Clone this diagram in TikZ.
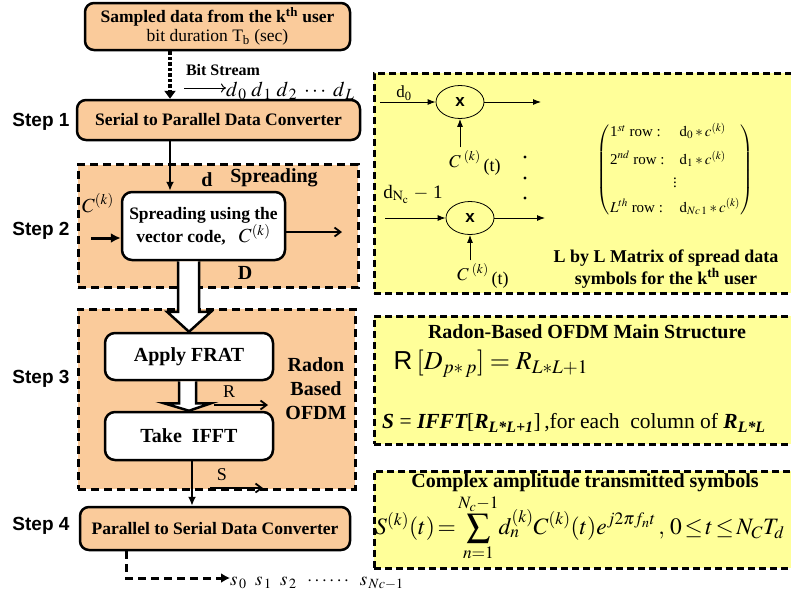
\documentclass[tikz,border=0pt]{standalone}
\usepackage{amsmath}
\usepackage{mathptmx}
\usepackage{fontspec}
\setmainfont{Liberation Serif}
\newfontfamily\stepfont{Liberation Sans}
\usepackage{tikz}
\usetikzlibrary{
  shapes.geometric,
  arrows.meta,
  positioning,
  calc
}
\definecolor{blockcolor}{RGB}{250, 203, 155}
\definecolor{panelcolor}{RGB}{255, 255, 153}
\definecolor{edgecolor}{RGB}{0, 0, 0}
\tikzset{
blocktext/.style={
  align=center,
  font=\bfseries\fontsize{17.5}{22}\selectfont
},
stepblock/.style={
  draw=edgecolor,
  line width=2.5pt,
  rounded corners=9pt,
  fill=blockcolor,
  blocktext
},
innerblock/.style={
  draw=edgecolor,
  line width=2.5pt,
  rounded corners=10pt,
  fill=white,
  blocktext
},
region/.style={
  draw=edgecolor,
  line width=3pt,
  dash pattern=on 8pt off 5pt,
  fill=blockcolor
},
panel/.style={
  draw=edgecolor,
  line width=2.5pt,
  dash pattern=on 7pt off 4pt,
  fill=panelcolor,
  anchor=north west
},
steplabel/.style={
  font=\stepfont\bfseries\fontsize{19}{22}\selectfont
},
boldlabel/.style={
  font=\bfseries\fontsize{20}{24}\selectfont,
  align=center
},
plainlabel/.style={
  font=\fontsize{18}{20}\selectfont
},
mixer/.style={
  draw,
  ellipse,
  line width=0.8pt,
  minimum width=48pt,
  minimum height=33pt,
  font=\stepfont\bfseries\fontsize{17}{20}\selectfont
},
arrow/.style={
  -{Latex[length=9pt,width=8pt]},
  line width=2pt
},
thinarrow/.style={
  -{Straight Barb[length=6pt,width=9pt]},
  line width=1.8pt
},
signalarrow/.style={
  -{Latex[length=8pt,width=6pt]},
  line width=0.9pt
},
hollow/.style={
  draw=edgecolor,
  line width=2.5pt,
  fill=white,
  line join=miter
}
}
\newcommand{\bi}[1]{{\bfseries\itshape #1}}
\begin{document}
\begin{tikzpicture}[x=1pt,y=-1pt]
\path[use as bounding box] (0,0) rectangle (791,600);
\clip (0,0) rectangle (791,600);

% left column: the transmitter steps
\node[stepblock, minimum width=265, minimum height=47] (src) at (217.5,26.5)
  {Sampled data from the k\textsuperscript{th} user\\[-3pt]
   {\mdseries bit duration T\textsubscript{b} (sec)}};
\node[stepblock, minimum width=283, minimum height=40] (s2p) at (218.5,120)
  {Serial to Parallel Data Converter};

\node[region, minimum width=280, minimum height=123] (spreadreg) at (218,226) {};
\node[region, minimum width=277, minimum height=180] (radonreg) at (216.5,399) {};

\node[innerblock, minimum width=163, minimum height=68] (spread) at (203.5,226)
  {Spreading using the\\vector code, \enspace{\mdseries\fontsize{20}{22}\selectfont$C^{(k)}$}};
\node[innerblock, minimum width=168, minimum height=47] (frat) at (189,356.5)
  {\fontsize{20}{22}\selectfont Apply FRAT};
\node[innerblock, minimum width=168, minimum height=48] (ifft) at (189,436)
  {\fontsize{20}{22}\selectfont Take\enspace IFFT};
\node[stepblock, minimum width=270, minimum height=43] (p2s) at (215,528.5)
  {Parallel to Serial Data Converter};

\node[steplabel] (step1) at (41,122) {Step 1};
\node[steplabel] (step2) at (41,231) {Step 2};
\node[steplabel] (step3) at (41,379) {Step 3};
\node[steplabel] (step4) at (41,526) {Step 4};

\node[font=\bfseries\fontsize{16}{18}\selectfont] (bitlbl) at (223,70) {Bit Stream};
\coordinate (bitin) at (184,88);
\node[anchor=west, font=\fontsize{21}{22}\selectfont, inner sep=0pt] (bits) at (226,91)
  {$d_{\,0}\;d_{\,1}\;d_{\,2}\;\cdots\;d_{\,L}$};
\draw[line width=1pt, -{To[length=5pt,width=9pt]}] (bitin) -- (bits.west |- bitin);
\draw[line width=3.5pt, dotted, -{Triangle[length=8pt,width=11pt]}]
  (src.south -| 170,0) -- (s2p.north -| 170,0);

\draw[arrow] (s2p.south -| 170,0) -- (spread.north -| 170,0);
\node[boldlabel] (dlbl) at (207,180) {d};
\node[boldlabel] (spreadlbl) at (274,178) {Spreading};
\node[plainlabel, font=\fontsize{20}{22}\selectfont] (ckin) at (98,203) {$C^{(k)}$};
\coordinate (cin) at (91,238);
\draw[line width=3pt, -{Latex[length=10pt,width=10pt]}] (cin) -- (spread.west |- cin);
\coordinate (dout) at (342,232);
\draw[thinarrow] (spread.east |- dout) -- (dout);
\node[boldlabel] (Dlbl) at (245,273) {D};

\draw[hollow] ($(spread.south -| frat.north)+(-11,0)$) -- ($(frat.north)+(-11,-20)$)
  -- ($(frat.north)+(-22,-20)$) -- (frat.north) -- ($(frat.north)+(22,-20)$)
  -- ($(frat.north)+(10,-20)$) -- ($(spread.south -| frat.north)+(10,0)$);
\draw[hollow] ($(frat.south)+(-10,0)$) -- ($(frat.south)+(-10,22)$)
  -- ($(frat.south)+(-25,22)$) -- (ifft.north) -- ($(frat.south)+(22,22)$)
  -- ($(frat.south)+(7,22)$) -- ($(frat.south)+(7,0)$);

\node[boldlabel] (radonlbl) at (316,389) {Radon\\Based\\OFDM};
\node[plainlabel] (Rlbl) at (229,392) {R};
\coordinate (rin) at (214,405);
\coordinate (rout) at (268,405);
\draw[thinarrow] (rin) -- (rout);
\node[plainlabel] (Slbl) at (222,475) {S};
\coordinate (sin) at (210,488);
\coordinate (sout) at (263,488);
\draw[thinarrow] (sin) -- (sout);
\draw[arrow] (ifft.south -| 192,0) -- (p2s.north -| 192,0);

\coordinate (outcorner) at (126,578);
\node[anchor=west, font=\fontsize{19}{22}\selectfont, inner sep=0pt] (syms) at (230,583)
  {$s_{\,0}\;\;s_{\,1}\;\;s_{\,2}\;\;\cdots\cdots\;\;s_{\,Nc-1}$};
\draw[line width=3pt, dash pattern=on 8pt off 5pt, -{Latex[length=9pt,width=10pt]}]
  (p2s.south -| outcorner) -- (outcorner) -- (syms.west |- outcorner);

% right column: the three yellow panels
\node[panel, minimum width=440, minimum height=220] (spreadpanel) at (373,72) {};
\node[panel, minimum width=440, minimum height=128] (radonpanel) at (373,315) {};
\node[panel, minimum width=440, minimum height=97] (ampanel) at (373,470) {};

\node[plainlabel, font=\fontsize{17}{20}\selectfont] (din0) at (404,93) {d\textsubscript{0}};
\node[mixer] (mulA) at (460,102) {x};
\coordinate (inA) at (380,102);
\coordinate (outA) at (541,102);
\draw[signalarrow] (inA) -- (mulA.west);
\draw[signalarrow] (mulA.east) -- (outA);
\node[font=\fontsize{18}{20}\selectfont] (codeA) at (475,163)
  {$C^{\;(k)}$\raisebox{-4pt}{\,(t)}};
\draw[signalarrow] (codeA.north -| mulA.south) -- (mulA.south);

\foreach \dy in {157,178,198}
  \fill (525,\dy) circle (1.6pt);

\node[plainlabel, font=\fontsize{19}{22}\selectfont] (dinN) at (413,194)
  {d$_{\mathrm{N}_{\mathrm{c}}}$ $-$ 1};
\node[mixer] (mulB) at (470,218) {x};
\coordinate (inB) at (385,218);
\coordinate (outB) at (545,218);
\draw[signalarrow] (inB) -- (mulB.west);
\draw[signalarrow] (mulB.east) -- (outB);
\node[font=\fontsize{18}{20}\selectfont] (codeB) at (483,276)
  {$C^{\;(k)}$\raisebox{-4pt}{\,(t)}};
\draw[signalarrow] (codeB.north -| mulB.south) -- (mulB.south);

\node[font=\fontsize{15}{17}\selectfont] (spreadmat) at (675,170)
  {$\left(\begin{array}{@{}l@{\quad}l@{}}
   \text{1}^{st}\text{ row :} & \mathrm{d}_0 * c^{(k)}\\[9pt]
   \text{2}^{nd}\text{ row :} & \mathrm{d}_1 * c^{(k)}\\[2pt]
   \multicolumn{2}{c}{\vdots}\\[6pt]
   L^{th}\text{ row :} & \mathrm{d}_{Nc\,1} * c^{(k)}
   \end{array}\right)$};
\node[boldlabel, font=\bfseries\fontsize{18}{22}\selectfont] (matlbl) at (666,269)
  {L by L Matrix of spread data\\symbols for the k\textsuperscript{th} user};

\node[boldlabel, font=\bfseries\fontsize{20}{22}\selectfont] (radontitle) at (587,332)
  {Radon-Based OFDM Main Structure};
\node[anchor=west, font=\fontsize{26}{28}\selectfont] (radoneq) at (390,364)
  {{\stepfont R}\,$[D_{p*\,p}] = R_{L*L+1}$};
\node[anchor=west, font=\fontsize{21.5}{24}\selectfont, inner sep=0pt] (iffteq) at (382,423)
  {\bi{S} = \bi{IFFT}[\bi{R}\textsubscript{\bi{L*L+1}}]\,,for each\enspace column of
   \bi{R}\textsubscript{\bi{L*L}}};

\node[boldlabel, font=\bfseries\fontsize{20}{22}\selectfont] (amptitle) at (585,483)
  {Complex amplitude transmitted symbols};
\node[anchor=west, font=\fontsize{23.5}{26}\selectfont, inner sep=0pt] (ampeq) at (375,528)
  {\medmuskip=1mu\thickmuskip=2mu
   $S^{(k)}(t)=\displaystyle\sum_{n=1}^{N_c-1}\! d_n^{(k)}C^{(k)}(t)e^{j2\pi f_n t}\,,\;0\le t\le N_C T_d$};
\end{tikzpicture}
\end{document}
